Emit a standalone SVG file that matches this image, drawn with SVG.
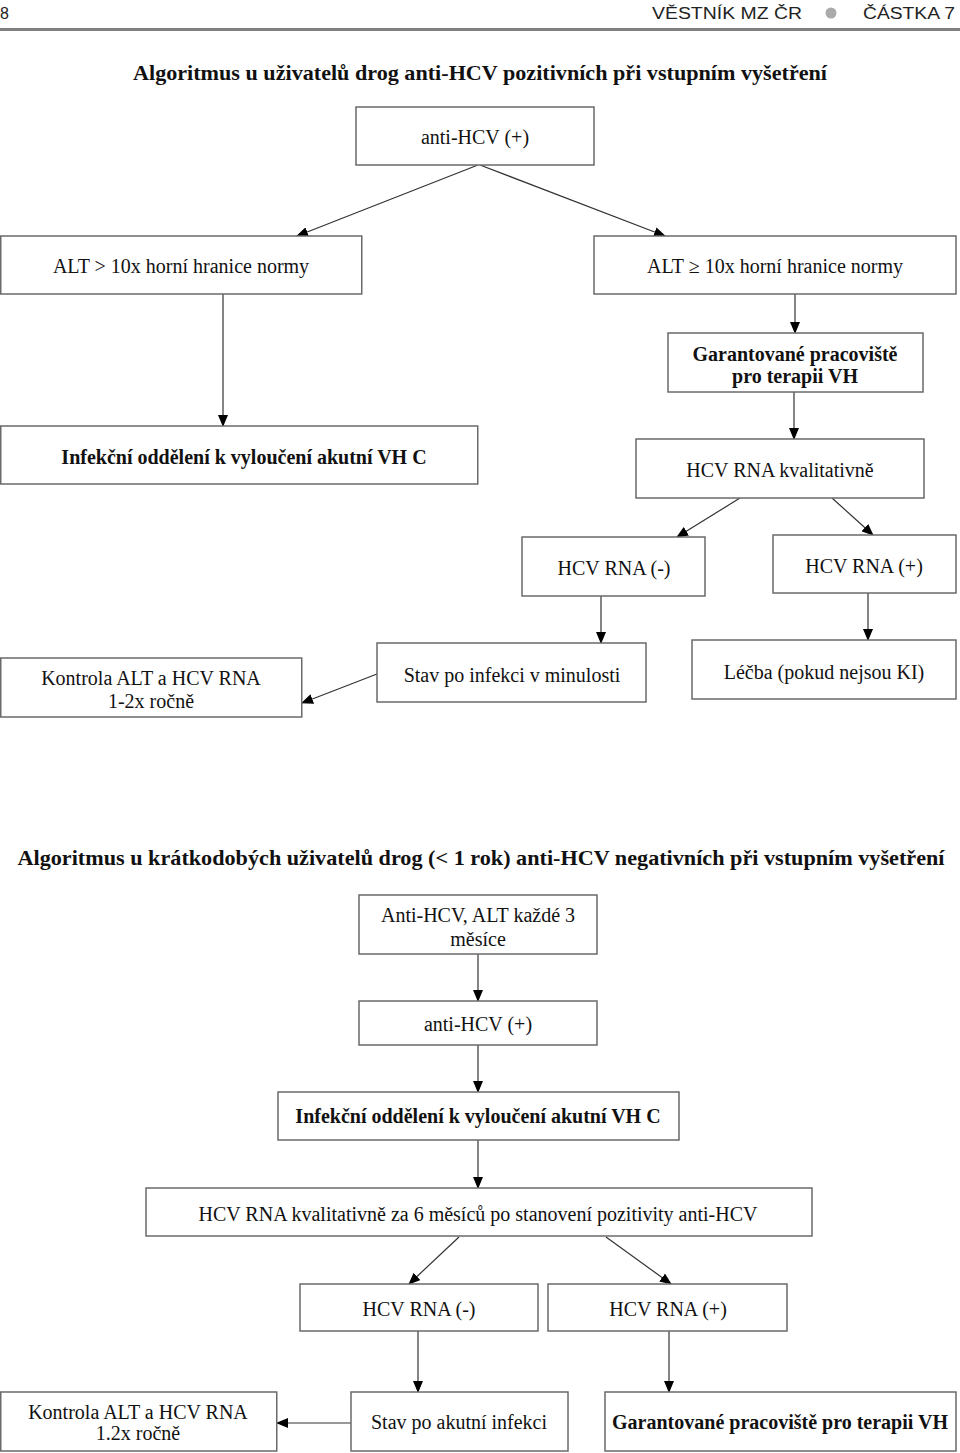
<svg xmlns="http://www.w3.org/2000/svg" width="960" height="1453" viewBox="0 0 960 1453">
<defs>
<marker id="ah" markerWidth="12" markerHeight="10" refX="11" refY="5" orient="auto" markerUnits="userSpaceOnUse">
<path d="M0,0 L12,5 L0,10 Z" fill="#000"/>
</marker>
<style>
.box{fill:#fff;stroke:#6a6a6a;stroke-width:1.5}
.t{font-family:"Liberation Serif","Times New Roman",serif;font-size:20px;fill:#111;text-anchor:middle;dominant-baseline:central}
.b{font-weight:bold}
.ttl{font-family:"Liberation Serif","Times New Roman",serif;font-size:22px;font-weight:bold;fill:#111;text-anchor:middle}
.hd{font-family:"Liberation Sans",Arial,sans-serif;font-size:16px;fill:#222}
.c{stroke:#333;stroke-width:1.2;fill:none;marker-end:url(#ah)}
</style>
</defs>
<rect width="960" height="1453" fill="#fff"/>
<g id="header">
<text class="hd" x="0" y="19">8</text>
<text class="hd" x="652" y="19" textLength="150" lengthAdjust="spacingAndGlyphs">VĚSTNÍK MZ ČR</text>
<circle cx="831" cy="13" r="5.5" fill="#aaa"/>
<text class="hd" x="863" y="19" textLength="92" lengthAdjust="spacingAndGlyphs">ČÁSTKA 7</text>
<rect x="0" y="28" width="960" height="3" fill="#808080"/>
</g>
<text class="ttl" x="480" y="80" textLength="694" lengthAdjust="spacingAndGlyphs">Algoritmus u uživatelů drog anti-HCV pozitivních při vstupním vyšetření</text>
<text class="ttl" x="481" y="865" textLength="927" lengthAdjust="spacingAndGlyphs">Algoritmus u krátkodobých uživatelů drog (&lt; 1 rok) anti-HCV negativních při vstupním vyšetření</text>

<g id="connectors">
<line class="c" x1="478" y1="165" x2="297" y2="236"/>
<line class="c" x1="480" y1="165" x2="665" y2="236"/>
<line class="c" x1="223" y1="294" x2="223" y2="426"/>
<line class="c" x1="795" y1="294" x2="795" y2="333"/>
<line class="c" x1="794" y1="392" x2="794" y2="439"/>
<line class="c" x1="740" y1="498" x2="677" y2="537"/>
<line class="c" x1="832" y1="498" x2="873" y2="535"/>
<line class="c" x1="601" y1="596" x2="601" y2="643"/>
<line class="c" x1="868" y1="593" x2="868" y2="640"/>
<line class="c" x1="377" y1="674" x2="302" y2="703"/>
<line class="c" x1="478" y1="954" x2="478" y2="1001"/>
<line class="c" x1="478" y1="1045" x2="478" y2="1092"/>
<line class="c" x1="478" y1="1140" x2="478" y2="1188"/>
<line class="c" x1="459" y1="1237" x2="409" y2="1284"/>
<line class="c" x1="606" y1="1237" x2="671" y2="1284"/>
<line class="c" x1="418" y1="1331" x2="418" y2="1392"/>
<line class="c" x1="669" y1="1331" x2="669" y2="1392"/>
<line class="c" x1="351" y1="1423" x2="277" y2="1423"/>
</g>

<g id="n1"><rect class="box" x="356" y="107" width="238" height="58"/><text class="t" x="475" y="137">anti-HCV (+)</text></g>
<g id="n2"><rect class="box" x="0.75" y="236" width="361" height="58"/><text class="t" x="181" y="266">ALT &gt; 10x horní hranice normy</text></g>
<g id="n3"><rect class="box" x="594" y="236" width="362" height="58"/><text class="t" x="775" y="266">ALT ≥ 10x horní hranice normy</text></g>
<g id="n4"><rect class="box" x="668" y="333" width="255" height="59"/><text class="t b" x="795" y="354">Garantované pracoviště</text><text class="t b" x="795" y="376">pro terapii VH</text></g>
<g id="n5"><rect class="box" x="0.75" y="426" width="477" height="58"/><text class="t b" x="244" y="457">Infekční oddělení k vyloučení akutní VH C</text></g>
<g id="n6"><rect class="box" x="636" y="439" width="288" height="59"/><text class="t" x="780" y="470">HCV RNA kvalitativně</text></g>
<g id="n7"><rect class="box" x="522" y="537" width="183" height="59"/><text class="t" x="614" y="568">HCV RNA (-)</text></g>
<g id="n8"><rect class="box" x="773" y="535" width="183" height="58"/><text class="t" x="864" y="566">HCV RNA (+)</text></g>
<g id="n9"><rect class="box" x="377" y="643" width="269" height="59"/><text class="t" x="512" y="675">Stav po infekci v minulosti</text></g>
<g id="n10"><rect class="box" x="692" y="640" width="264" height="59"/><text class="t" x="824" y="672">Léčba (pokud nejsou KI)</text></g>
<g id="n11"><rect class="box" x="0.75" y="658" width="301" height="59"/><text class="t" x="151" y="678">Kontrola ALT a HCV RNA</text><text class="t" x="151" y="701">1-2x ročně</text></g>

<g id="m1"><rect class="box" x="359" y="895" width="238" height="59"/><text class="t" x="478" y="915">Anti-HCV, ALT každé 3</text><text class="t" x="478" y="939">měsíce</text></g>
<g id="m2"><rect class="box" x="359" y="1001" width="238" height="44"/><text class="t" x="478" y="1024">anti-HCV (+)</text></g>
<g id="m3"><rect class="box" x="278" y="1092" width="401" height="48"/><text class="t b" x="478" y="1116">Infekční oddělení k vyloučení akutní VH C</text></g>
<g id="m4"><rect class="box" x="146" y="1188" width="666" height="48"/><text class="t" x="478" y="1214">HCV RNA kvalitativně za 6 měsíců po stanovení pozitivity anti-HCV</text></g>
<g id="m5"><rect class="box" x="300" y="1284" width="238" height="47"/><text class="t" x="419" y="1309">HCV RNA (-)</text></g>
<g id="m6"><rect class="box" x="548" y="1284" width="239" height="47"/><text class="t" x="668" y="1309">HCV RNA (+)</text></g>
<g id="m7"><rect class="box" x="0.75" y="1392" width="276" height="59"/><text class="t" x="138" y="1412">Kontrola ALT a HCV RNA</text><text class="t" x="138" y="1433">1.2x ročně</text></g>
<g id="m8"><rect class="box" x="351" y="1392" width="217" height="59"/><text class="t" x="459" y="1422">Stav po akutní infekci</text></g>
<g id="m9"><rect class="box" x="605" y="1392" width="351" height="59"/><text class="t b" x="780" y="1422">Garantované pracoviště pro terapii VH</text></g>
</svg>
